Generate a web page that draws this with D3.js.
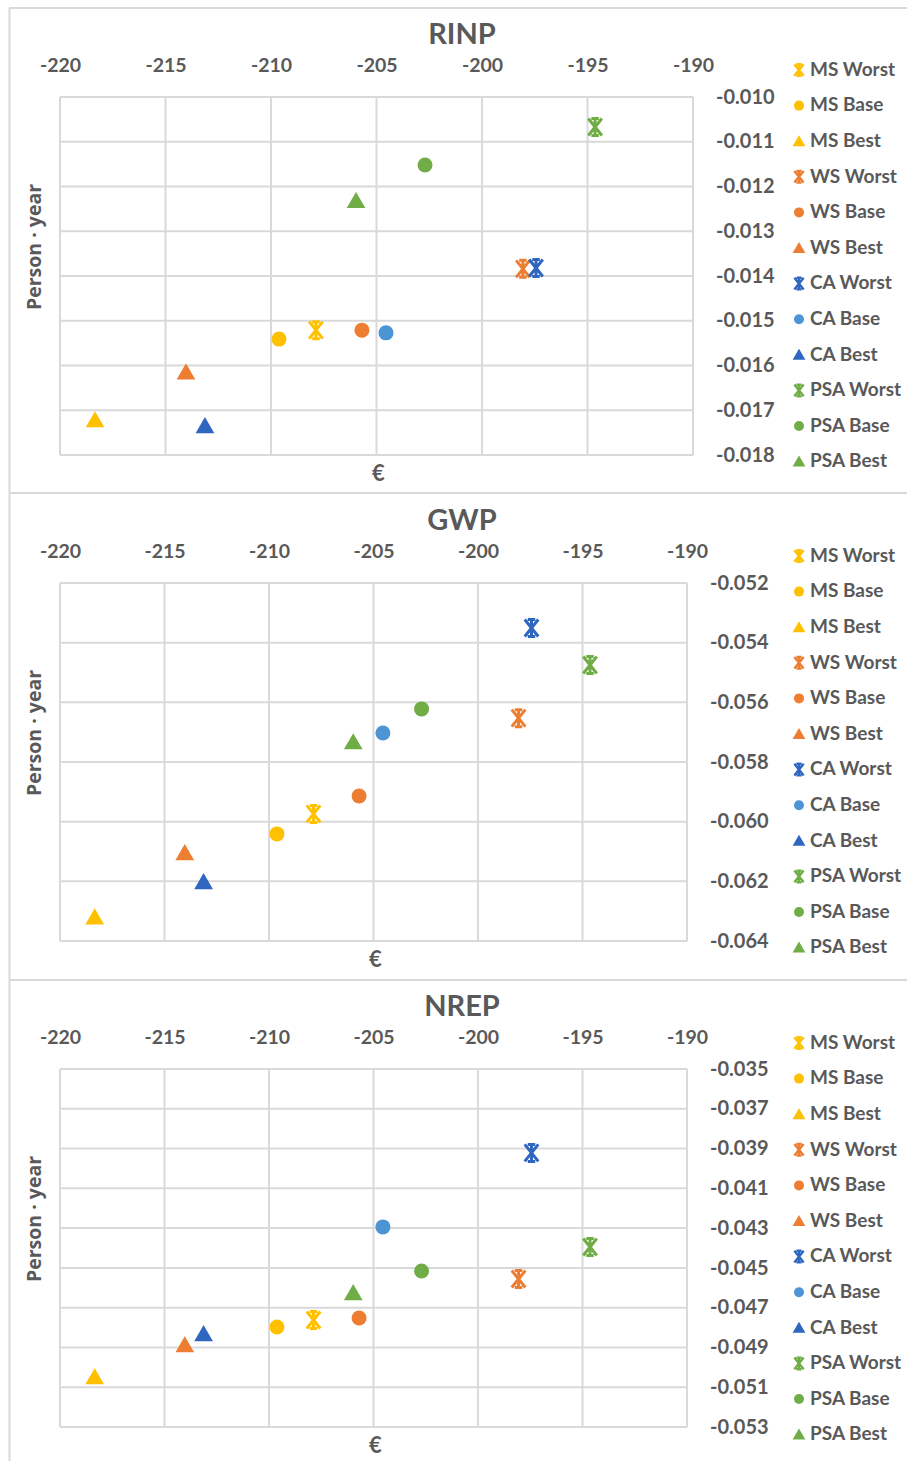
<!DOCTYPE html>
<html>
<head>
<meta charset="utf-8">
<script src="https://cdn.jsdelivr.net/npm/d3@7"></script>
<style>
  body { margin: 0; background: #fff; }
  text { font-family: Lato, "Open Sans", sans-serif; font-weight: bold; fill: #595959; }
</style>
</head>
<body>
<svg id="chart" width="907" height="1461"></svg>
<script>
// series in legend order
var series = ['MS Worst', 'MS Base', 'MS Best', 'WS Worst', 'WS Base', 'WS Best',
              'CA Worst', 'CA Base', 'CA Best', 'PSA Worst', 'PSA Base', 'PSA Best'];
var shapes = ['star', 'circle', 'triangle', 'star', 'circle', 'triangle',
              'star', 'circle', 'triangle', 'star', 'circle', 'triangle'];
var colors = ['#FFC000', '#FFC000', '#FFC000', '#ED7D31', '#ED7D31', '#ED7D31',
              '#2E66C0', '#4C94D4', '#2E66C0', '#70AD47', '#70AD47', '#70AD47'];

// cost (€), same for every panel
var cost = [-207.87, -209.62, -218.34, -198.06, -205.69, -214.03,
            -197.44, -204.55, -213.13, -194.64, -202.70, -205.97];

var rinp = [-0.01521, -0.01541, -0.01722, -0.01384, -0.01521, -0.01615,
            -0.01382, -0.01527, -0.01735, -0.01067, -0.01152, -0.01232];
var gwp  = [-0.05974, -0.06041, -0.06320, -0.05653, -0.05914, -0.06105,
            -0.05351, -0.05703, -0.06202, -0.05475, -0.05622, -0.05733];
var nrep = [-0.04762, -0.04797, -0.05049, -0.04556, -0.04752, -0.04888,
            -0.03922, -0.04294, -0.04832, -0.04395, -0.04516, -0.04626];

var xTicks = [-220, -215, -210, -205, -200, -195, -190];
var rinpTicks = [-0.010, -0.011, -0.012, -0.013, -0.014, -0.015, -0.016, -0.017, -0.018];
var gwpTicks  = [-0.052, -0.054, -0.056, -0.058, -0.060, -0.062, -0.064];
var nrepTicks = [-0.035, -0.037, -0.039, -0.041, -0.043, -0.045, -0.047, -0.049, -0.051, -0.053];

var svg = d3.select('#chart');

// outer frame and panel separators
var frame = svg.append('g').attr('stroke', '#d9d9d9').attr('stroke-width', 2);
frame.append('line').attr('x1', 9.5).attr('x2', 9.5).attr('y1', 8).attr('y2', 1461);
[8, 493, 980].forEach(function(y) {
  frame.append('line').attr('x1', 9).attr('x2', 907).attr('y1', y).attr('y2', y);
});

function markerPath(shape, s) {
  if (shape === 'circle') return d3.symbol(d3.symbolCircle, Math.PI * s * s)();
  if (shape === 'triangle') {
    var h = s * 1.9, w = s * 2.2;
    return 'M0,' + (-h * 0.55) + 'L' + (w / 2) + ',' + (h * 0.45) + 'L' + (-w / 2) + ',' + (h * 0.45) + 'Z';
  }
  // Excel star: x plus a vertical stroke
  var a = s * 0.8, b = s;
  return 'M' + (-a) + ',' + (-b) + 'L' + a + ',' + b +
         'M' + a + ',' + (-b) + 'L' + (-a) + ',' + b +
         'M0,' + (-b) + 'V' + b +
         'M' + (-a * 0.55) + ',' + (-b) + 'H' + (a * 0.55) +
         'M' + (-a * 0.55) + ',' + b + 'H' + (a * 0.55);
}

function drawMark(g, shape, color, s, sw) {
  var p = g.append('path').attr('d', markerPath(shape, s));
  if (shape === 'star') p.attr('fill', 'none').attr('stroke', color).attr('stroke-width', sw);
  else p.attr('fill', color);
  return p;
}

var fmtY = function(d) { return d3.format('.3f')(d).replace('−', '-'); };
var fmtX = function(d) { return String(d); };

function panel(opt) {
  var g = svg.append('g');
  var x = d3.scaleLinear().domain([-220, -190]).range([opt.left, opt.right]);
  var y = d3.scaleLinear().domain([opt.ticks[0], opt.ticks[opt.ticks.length - 1]])
            .range([opt.top, opt.bottom]);

  // gridlines
  var grid = g.append('g').attr('stroke', '#d9d9d9').attr('stroke-width', 2);
  grid.selectAll('line.v').data(xTicks).enter().append('line')
    .attr('x1', x).attr('x2', x).attr('y1', opt.top).attr('y2', opt.bottom);
  grid.selectAll('line.h').data(opt.ticks).enter().append('line')
    .attr('y1', y).attr('y2', y).attr('x1', opt.left).attr('x2', opt.right);

  // x tick labels on top
  var xa = g.append('g').attr('transform', 'translate(0,' + (opt.top - 30) + ')')
    .call(d3.axisTop(x).tickValues(xTicks).tickFormat(fmtX).tickSize(0).tickPadding(0));
  xa.select('.domain').remove();
  xa.selectAll('text').style('font-size', '19.5px').attr('fill', '#595959')
    .attr('font-family', 'Lato, sans-serif').attr('dominant-baseline', 'middle').attr('dy', 0);

  // y tick labels on right
  var ya = g.append('g').attr('transform', 'translate(' + (opt.right + 23) + ',0)')
    .call(d3.axisRight(y).tickValues(opt.ticks).tickFormat(fmtY).tickSize(0).tickPadding(0));
  ya.select('.domain').remove();
  ya.selectAll('text').style('font-size', '20px').attr('fill', '#595959')
    .attr('font-family', 'Lato, sans-serif').attr('dominant-baseline', 'middle').attr('dy', 1);

  // title, centred on the whole chart
  g.append('text').attr('x', 462).attr('y', opt.top - 60)
    .attr('text-anchor', 'middle').attr('dominant-baseline', 'middle')
    .style('font-size', '29px').text(opt.title);

  // axis titles
  g.append('text').attr('x', (opt.left + opt.right) / 2 + 2).attr('y', opt.bottom + 20)
    .attr('text-anchor', 'middle').attr('dominant-baseline', 'middle')
    .style('font-size', '22px').text('€');
  g.append('text')
    .attr('transform', 'translate(36,' + ((opt.top + opt.bottom) / 2 - 29) + ') rotate(-90)')
    .attr('text-anchor', 'middle').attr('dominant-baseline', 'middle')
    .style('font-family', '"Open Sans", sans-serif').style('font-size', '19.5px')
    .text('Person · year');

  // points
  var pts = g.append('g');
  series.forEach(function(name, i) {
    var m = pts.append('g')
      .attr('transform', 'translate(' + x(cost[i]) + ',' + y(opt.values[i]) + ')');
    drawMark(m, shapes[i], colors[i], shapes[i] === 'circle' ? 7.5 : 8.5, 3);
  });

  // legend
  var lg = g.append('g');
  series.forEach(function(name, i) {
    var ly = opt.legendTop + i * 35.6;
    var m = lg.append('g').attr('transform', 'translate(' + 799 + ',' + ly + ')');
    drawMark(m, shapes[i], colors[i], shapes[i] === 'circle' ? 5 : 5.8, 2.4);
    lg.append('text').attr('x', 810).attr('y', ly + 1).attr('dominant-baseline', 'middle')
      .style('font-size', '19px').text(name);
  });
}

panel({ title: 'RINP', values: rinp, ticks: rinpTicks,
        left: 60, right: 693, top: 97, bottom: 455, legendTop: 70 });
panel({ title: 'GWP', values: gwp, ticks: gwpTicks,
        left: 60, right: 687, top: 583, bottom: 941, legendTop: 556 });
panel({ title: 'NREP', values: nrep, ticks: nrepTicks,
        left: 60, right: 687, top: 1069, bottom: 1427, legendTop: 1043 });
</script>
</body>
</html>
